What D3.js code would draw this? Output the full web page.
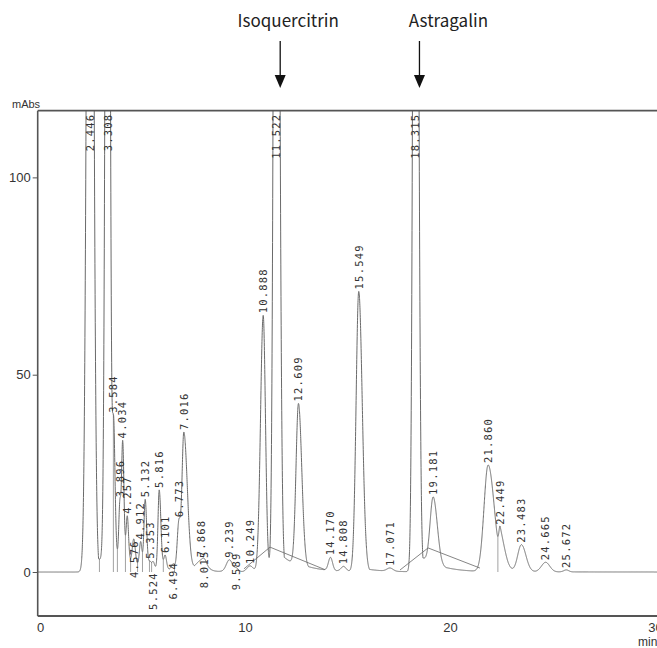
<!DOCTYPE html>
<html>
<head>
<meta charset="utf-8">
<script src="https://cdnjs.cloudflare.com/ajax/libs/d3/7.8.5/d3.min.js"></script>
<style>
  html, body { margin: 0; padding: 0; background: #ffffff; overflow: hidden; }
  svg { display: block; }
  .axis-text { font-family: "Liberation Sans Narrow", "Liberation Sans", sans-serif; fill: #333; }
  .peak-label { font-family: "DejaVu Sans Mono", "Liberation Mono", monospace; font-size: 10.5px; letter-spacing: 1.2px; fill: #333; }
</style>
</head>
<body>
<svg id="chart" width="657" height="648"></svg>
<script>
// Peak table (retention time in min, height in mAbs)
const peakTimes = [2.446, 3.308, 3.584, 3.896, 4.034, 4.257, 4.576, 4.912, 5.132, 5.353,
                   5.524, 5.816, 6.101, 6.494, 6.773, 7.016, 7.868, 8.015, 9.239, 9.589,
                   10.249, 10.888, 11.522, 12.609, 14.170, 14.808, 15.549, 17.071, 18.315, 19.181,
                   21.860, 22.449, 23.483, 24.665, 25.672];
const peakHeights = [350, 350, 34.5, 13, 29.5, 11, 6, 6, 17, 1.5,
                     1.5, 20, 3.5, 1.5, 12, 35, 2.5, 1, 3, 0.8,
                     1.5, 65, 350, 41, 3.3, 1.2, 71, 0.8, 350, 17,
                     27, 7.5, 6.8, 2.4, 0.5];
// peak half widths (min), front and tail side
const widthFront = [0.135, 0.10, 0.06, 0.05, 0.055, 0.06, 0.07, 0.06, 0.06, 0.07,
                    0.06, 0.06, 0.07, 0.08, 0.08, 0.09, 0.25, 0.10, 0.15, 0.10,
                    0.15, 0.13, 0.105, 0.12, 0.10, 0.12, 0.13, 0.15, 0.10, 0.15,
                    0.20, 0.06, 0.18, 0.20, 0.12];
const widthTail  = [0.135, 0.09, 0.07, 0.05, 0.06, 0.06, 0.07, 0.06, 0.07, 0.07,
                    0.06, 0.08, 0.07, 0.08, 0.08, 0.17, 0.25, 0.10, 0.15, 0.10,
                    0.15, 0.11, 0.13, 0.16, 0.10, 0.12, 0.17, 0.15, 0.12, 0.20,
                    0.30, 0.25, 0.22, 0.20, 0.12];
// where the integrator printed crowded labels (mAbs of text start); null = at apex
const labelFrom = [null, null, null, null, null, null, -1.5, null, null, null,
                   -9.6, null, null, -7, null, null, null, -4.1, null, -4.6,
                   null, null, null, null, null, null, null, null, null, null,
                   null, null, null, null, null];

// integrator baseline construction lines [min, mAbs]
const baseSegments = [
  [[9.95, 0.8], [11.22, 6.3], [13.9, 0.6]],
  [[17.56, 0.5], [18.93, 6.1], [21.46, 1.0]]
];

// named compounds marked with arrows
const compounds = ["Isoquercitrin", "Astragalin"];
const compoundTimes = [11.522, 18.315];

const xTicks = [0, 10, 20, 30];
const yTicks = [0, 50, 100];

// peak tailing
const TAIL_K = 0.015, TAIL_TAU = 0.9;

const svg = d3.select('#chart');

const x = d3.scaleLinear().domain([0, 30]).range([40, 655]);
const y = d3.scaleLinear().domain([-11.15, 116.9]).range([616, 110.7]);

const frameLeft = 37.7, frameTop = y(116.9), frameBottom = y(-11.15);

function signal(t) {
  let s = 0;
  for (let i = 0; i < peakTimes.length; i++) {
    const d = t - peakTimes[i], h = peakHeights[i];
    if (d < 0) {
      s += h * Math.exp(-d * d / (2 * widthFront[i] * widthFront[i]));
    } else {
      s += h * Math.max(Math.exp(-d * d / (2 * widthTail[i] * widthTail[i])),
                        TAIL_K * Math.exp(-d / TAIL_TAU));
    }
  }
  return s;
}

const times = d3.range(x.invert(frameLeft), 30.3, 0.004);
const trace = times.map(t => ({ t: t, v: signal(t) }));

// clip to the plotting frame
svg.append('defs').append('clipPath').attr('id', 'plotClip')
  .append('rect')
  .attr('x', frameLeft).attr('y', frameTop)
  .attr('width', 700).attr('height', frameBottom - frameTop);

const plot = svg.append('g').attr('clip-path', 'url(#plotClip)');

const line = d3.line().x(d => x(d.t)).y(d => y(d.v));

// drop lines between fused peaks
const inSegment = t => baseSegments.some(s => t >= s[0][0] && t <= s[s.length - 1][0]);
for (let i = 0; i < peakTimes.length - 1; i++) {
  const seg = trace.filter(d => d.t > peakTimes[i] && d.t < peakTimes[i + 1]);
  if (seg.length < 3) continue;
  const lo = seg.reduce((a, b) => (b.v < a.v ? b : a));
  if (lo === seg[0] || lo === seg[seg.length - 1]) continue;
  if (lo.v < 1.8 || inSegment(lo.t)) continue;
  plot.append('line')
    .attr('x1', x(lo.t)).attr('x2', x(lo.t))
    .attr('y1', y(0)).attr('y2', y(lo.v))
    .attr('stroke', '#8a8a8a').attr('stroke-width', 0.8);
}

// baseline construction
baseSegments.forEach(s => {
  plot.append('path')
    .datum(s)
    .attr('fill', 'none')
    .attr('stroke', '#777')
    .attr('stroke-width', 0.9)
    .attr('d', d3.line().x(d => x(d[0])).y(d => y(d[1])));
});

// chromatogram trace
plot.append('path')
  .datum(trace)
  .attr('fill', 'none')
  .attr('stroke', '#6a6a6a')
  .attr('stroke-width', 1)
  .attr('d', line);

// frame
svg.append('line').attr('x1', frameLeft).attr('x2', 657).attr('y1', frameTop).attr('y2', frameTop)
  .attr('stroke', '#555').attr('stroke-width', 1.8);
svg.append('line').attr('x1', frameLeft).attr('x2', 657).attr('y1', frameBottom).attr('y2', frameBottom)
  .attr('stroke', '#555').attr('stroke-width', 1.8);
svg.append('line').attr('x1', frameLeft).attr('x2', frameLeft).attr('y1', frameTop).attr('y2', frameBottom)
  .attr('stroke', '#555').attr('stroke-width', 1.6);

// Y axis
const yAxis = svg.append('g')
  .attr('transform', `translate(${frameLeft},0)`)
  .call(d3.axisLeft(y).tickValues(yTicks).tickSize(5).tickPadding(2));
yAxis.select('.domain').remove();
yAxis.selectAll('.tick line').attr('stroke', '#555');
yAxis.selectAll('text').attr('class', 'axis-text').style('font-size', '13px');

// X axis
const xAxis = svg.append('g')
  .attr('transform', `translate(0,${frameBottom})`)
  .call(d3.axisBottom(x).tickValues(xTicks).tickSize(0).tickPadding(7));
xAxis.select('.domain').remove();
xAxis.selectAll('text').attr('class', 'axis-text').style('font-size', '13px');

svg.append('text').attr('class', 'axis-text')
  .attr('x', 12).attr('y', 108).style('font-size', '11px').text('mAbs');
svg.append('text').attr('class', 'axis-text')
  .attr('x', 638).attr('y', 646).style('font-size', '12px').text('min');

// peak retention time labels
const labels = svg.append('g');
peakTimes.forEach((rt, i) => {
  const apex = signal(rt);
  const px = x(rt) + 3.8;
  let py, anchor;
  if (labelFrom[i] !== null) {
    py = y(labelFrom[i]); anchor = 'start';
  } else if (apex > 116.9) {
    py = frameTop + 3; anchor = 'end';
  } else {
    py = y(apex) - 2; anchor = 'start';
  }
  labels.append('text')
    .attr('class', 'peak-label')
    .attr('transform', `translate(${px},${py}) rotate(-90)`)
    .attr('text-anchor', anchor)
    .text(rt.toFixed(3));
});

// compound arrows
compounds.forEach((name, i) => {
  const ax = x(compoundTimes[i]) + 4;
  svg.append('line')
    .attr('x1', ax).attr('x2', ax).attr('y1', 41).attr('y2', 78)
    .attr('stroke', '#111').attr('stroke-width', 1.3);
  svg.append('path')
    .attr('d', `M${ax - 5.5},75 L${ax + 5.5},75 L${ax},88 Z`)
    .attr('fill', '#111');
  svg.append('text')
    .attr('x', i === 0 ? ax + 8 : ax + 29)
    .attr('y', 27)
    .attr('text-anchor', 'middle')
    .style('font-family', '"Noto Sans CJK JP", "Noto Sans", sans-serif')
    .style('font-size', '17px')
    .style('fill', '#222')
    .text(name);
});
</script>
</body>
</html>
